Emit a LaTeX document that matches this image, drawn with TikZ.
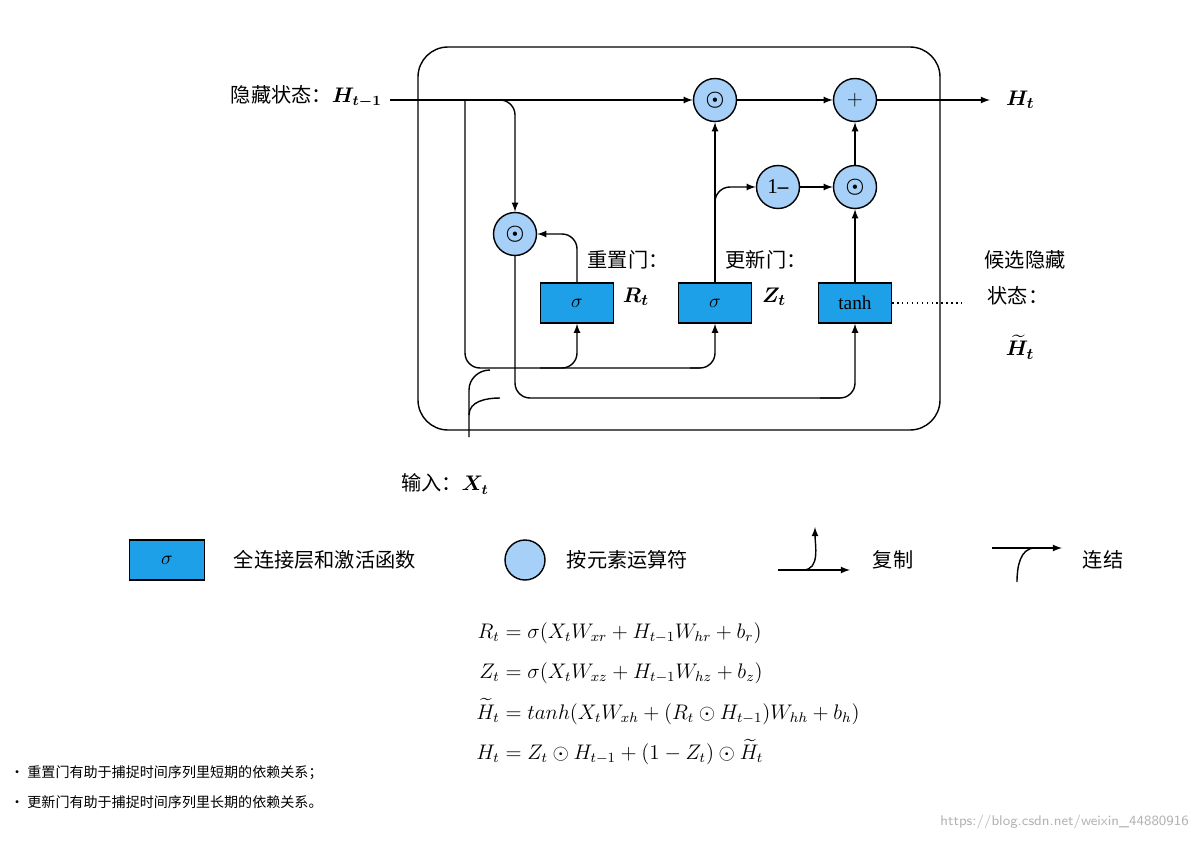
\documentclass[tikz,border=0pt]{standalone}
\usepackage{amsmath}
\usepackage{amssymb}
\usepackage{fontspec}
\setmainfont{Liberation Serif}
\newfontfamily\cjk{Noto Sans CJK SC}
\usepackage{tikz}
\usetikzlibrary{arrows, positioning}
\usepackage{xcolor}
\definecolor{opblue}{RGB}{166,208,247}
\definecolor{gateblue}{RGB}{30,160,232}
\tikzset{
    op/.style={circle, draw, thick, fill=opblue, minimum size=0.86cm, inner sep=0pt, font=\fontsize{12}{12}\selectfont},
    gate/.style={rectangle, draw, thick, fill=gateblue, minimum width=1.46cm, minimum height=0.8cm, font=\fontsize{11}{11}\selectfont},
    cn/.style={font=\cjk\fontsize{11.5}{12}\selectfont},
    wire/.style={thick, rounded corners=0.3cm},
    arr/.style={wire, -latex}
}
\begin{document}
\begin{tikzpicture}[x=0.02cm, y=-0.02cm]
    \useasboundingbox (0, 0) rectangle (1200, 841);
    % Cell border
    \draw [thick, rounded corners=0.6cm] (418, 47) rectangle (940, 430);
    % Operators
    \node [op] (mulh) at (715, 100) {$\boldsymbol{\odot}$};
    \node [op] (plus) at (855, 100) {$+$};
    \node [op] (minus) at (778, 187) {1\textbf{--}};
    \node [op] (mulz) at (855, 187) {$\boldsymbol{\odot}$};
    \node [op] (mulr) at (515, 234) {$\boldsymbol{\odot}$};
    % Gates
    \node [gate] (sigr) at (577, 303) {$\sigma$};
    \node [gate] (sigz) at (715, 303) {$\sigma$};
    \node [gate] (tanh) at (855, 303) {tanh};
    % Labels
    \node [cn, anchor=east] (hin) at (388, 97) {隐藏状态：$\boldsymbol{H_{t-1}}$};
    \node [anchor=west] (hout) at (1000, 100) {\fontsize{13}{13}\selectfont$\boldsymbol{H_t}$};
    \node [cn] at (628, 260) {重置门：};
    \node at (636, 297) {\fontsize{13}{13}\selectfont$\boldsymbol{R_t}$};
    \node [cn] at (766, 260) {更新门：};
    \node at (774, 297) {\fontsize{13}{13}\selectfont$\boldsymbol{Z_t}$};
    \node [cn] at (1025, 260) {候选隐藏};
    \node [cn] at (1018, 296) {状态：};
    \node at (1020, 347) {\fontsize{13}{13}\selectfont$\boldsymbol{\widetilde{H}_t}$};
    \node [cn, anchor=east] (xin) at (495, 484) {输入：$\boldsymbol{X_t}$};
    \coordinate (cand) at (962, 303);
    \coordinate (xbot) at (469, 437);
    % Hidden state paths
    \draw [arr] (390, 100) -- (mulh);
    \draw [wire] (465, 100) -- (465, 368) -- (700, 368);
    \draw [arr] (690, 368) -| (sigz);
    \draw [arr] (540, 368) -| (sigr);
    \draw [arr] (495, 100) -| (mulr);
    \draw [wire] (mulr) -- (515, 398) -- (840, 398);
    \draw [arr] (820, 398) -| (tanh);
    % Input paths
    \draw [thick] (xbot) -- (469, 415) to [out=90, in=180] (500, 398);
    \draw [thick] (469, 415) -- (469, 390) to [out=90, in=180] (490, 370);
    % Gate outputs
    \draw [arr] (sigr) |- (mulr);
    \draw [arr] (sigz) -- (mulh);
    \draw [arr] (715, 210) |- (minus);
    \draw [arr] (minus) -- (mulz);
    \draw [arr] (tanh) -- (mulz);
    \draw [arr] (mulz) -- (plus);
    \draw [arr] (mulh) -- (plus);
    \draw [arr] (plus) -- (990, 100);
    \draw [thick, dotted] (tanh) -- (cand);
    % Legend
    \node [gate, minimum width=1.5cm] (lgate) at (167, 560) {$\sigma$};
    \node [cn, right=0.45cm of lgate] {全连接层和激活函数};
    \node [op, minimum size=0.8cm] (lop) at (525, 560) {};
    \node [cn, right=0.3cm of lop] {按元素运算符};
    \draw [thick, -latex] (778, 570) -- (850, 570);
    \draw [thick, -latex] (803, 570) to [out=0, in=-90] (815, 527);
    \node [cn] at (893, 560) {复制};
    \draw [thick, -latex] (992, 548) -- (1062, 548);
    \draw [thick] (1017, 582) to [out=90, in=180] (1035, 548);
    \node [cn] at (1103, 560) {连结};
    % Equations
    \node [font=\fontsize{12}{20}\selectfont, align=center] at (668, 692) {%
        $\begin{aligned}
        R_t &= \sigma(X_t W_{xr} + H_{t-1} W_{hr} + b_r)\\
        Z_t &= \sigma(X_t W_{xz} + H_{t-1} W_{hz} + b_z)\\
        \widetilde{H}_t &= tanh(X_t W_{xh} + (R_t \odot H_{t-1}) W_{hh} + b_h)\\
        H_t &= Z_t \odot H_{t-1} + (1 - Z_t) \odot \widetilde{H}_t
        \end{aligned}$};
    % Notes
    \node [cn, anchor=west, font=\cjk\fontsize{8}{9}\selectfont] at (4, 773) {• 重置门有助于捕捉时间序列里短期的依赖关系；};
    \node [cn, anchor=west, font=\cjk\fontsize{8}{9}\selectfont] at (4, 802) {• 更新门有助于捕捉时间序列里长期的依赖关系。};
    \node [anchor=east, text=black!30, font=\sffamily\fontsize{8}{9}\selectfont] at (1195, 822) {https://blog.csdn.net/weixin\_44880916};
\end{tikzpicture}
\end{document}
